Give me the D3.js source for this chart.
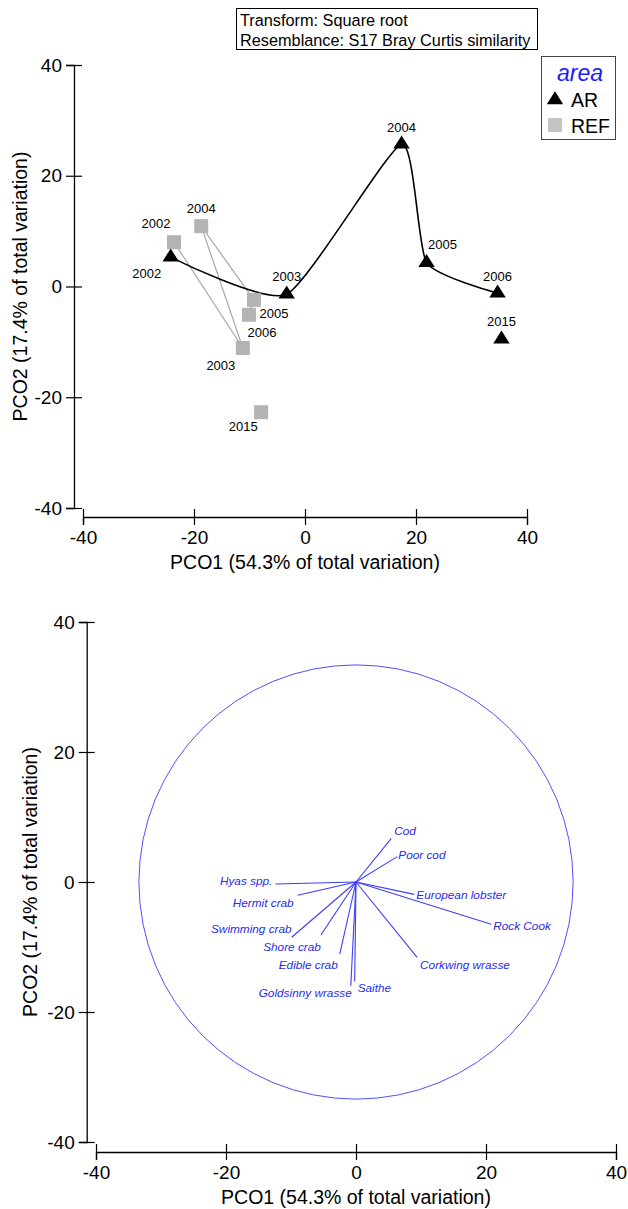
<!DOCTYPE html>
<html><head><meta charset="utf-8">
<script src="https://cdn.jsdelivr.net/npm/d3@7"></script>
<style>
html,body{margin:0;padding:0;background:#fff;}
svg{display:block;font-family:"Liberation Sans",Arial,sans-serif;}
</style></head>
<body>
<svg id="chart" width="628" height="1209"></svg>
<script>
// ---------- data ----------
const years = ["2002","2003","2004","2005","2006","2015"];
const arX  = [-24.2, -3.3, 17.4, 21.9, 34.7, 35.4];
const arY  = [  5.3, -1.4, 25.7,  4.3, -1.2, -9.5];
const refX = [-23.6, -11.2, -18.7, -9.2, -10.1, -7.9];
const refY = [  8.0, -11.1,  10.9, -2.4,  -5.1, -22.7];
const trajectoryYears = ["2002","2003","2004","2005","2006"];
const axisTicks = [-40, -20, 0, 20, 40];
const legendGroups = ["AR", "REF"];
const infoLines = ["Transform: Square root", "Resemblance: S17 Bray Curtis similarity"];
const xTitle = "PCO1 (54.3% of total variation)";
const yTitle = "PCO2 (17.4% of total variation)";

const species = ["Cod","Poor cod","Hyas spp.","Hermit crab","Swimming crab","Shore crab",
  "Edible crab","Goldsinny wrasse","Saithe","European lobster","Rock Cook","Corkwing wrasse"];
const vecX = [5.43, 6.35, -12.4, -8.97, -9.9, -5.4, -2.5, -0.8, -0.2, 8.97, 20.8, 9.4];
const vecY = [6.72, 3.9, -0.3, -2.05, -8.5, -8.15, -11.1, -15.95, -15.3, -1.9, -6.5, -11.6];
const circleRadius = 33.4;

// ---------- layout (label placement, px) ----------
const arLabelOff  = [[-24,21],[0,-13],[0,-12],[16,-14],[0,-12],[0,-13]];
const refLabelOff = [[-18,-14],[-22,22],[0,-13],[20,18],[13,22],[-18,19]];
const vecLabel = [["start",3,-3],["start",1,2],["end",-3,1],["end",-4,12],["end",0,-4],["end",0,16],
  ["end",-2,15],["end",1,11],["start",3,11],["start",2,5],["start",2,6],["start",3,12]];

const svg = d3.select("#chart");
const BLUE_LINE = "#3d3dff", BLUE_TEXT = "#2a2ae8", GREY = "#b3b3b3";

function drawAxes(g, x, y, yAxisX, xAxisY, tickFont, titleFont, yTitleX) {
  const fmt = d => String(d);
  const ya = g.append("g").attr("transform", `translate(${yAxisX},0)`)
    .call(d3.axisLeft(y).tickValues(axisTicks).tickFormat(fmt).tickSizeOuter(0).tickSize(8).tickPadding(4));
  ya.select(".domain").attr("stroke","#000").attr("stroke-width",1.3);
  ya.selectAll(".tick line").attr("x1",8).attr("stroke","#000").attr("stroke-width",1.2);
  ya.selectAll(".tick text").attr("font-size",tickFont).attr("fill","#000")
    .attr("font-family","Liberation Sans, Arial, sans-serif");
  const xa = g.append("g").attr("transform", `translate(0,${xAxisY})`)
    .call(d3.axisBottom(x).tickValues(axisTicks).tickFormat(fmt).tickSizeOuter(0).tickSize(8).tickPadding(6));
  xa.select(".domain").attr("stroke","#000").attr("stroke-width",1.3);
  xa.selectAll(".tick line").attr("y1",-8).attr("stroke","#000").attr("stroke-width",1.2);
  xa.selectAll(".tick text").attr("font-size",tickFont).attr("fill","#000")
    .attr("font-family","Liberation Sans, Arial, sans-serif");
  g.append("text").attr("x", x(0)).attr("y", xAxisY + 52).attr("text-anchor","middle")
    .attr("font-size", titleFont).text(xTitle);
  g.append("text").attr("transform", `translate(${yTitleX},${y(0)}) rotate(-90)`)
    .attr("text-anchor","middle").attr("font-size", titleFont).text(yTitle);
}

// ---------- top plot ----------
const x1 = d3.scaleLinear().domain([-40,40]).range([83,527]);
const y1 = d3.scaleLinear().domain([-40,40]).range([508,65]);
const topG = svg.append("g");
drawAxes(topG, x1, y1, 74, 517, 19, 19.5, 27);

// info box
const info = topG.append("g");
info.append("rect").attr("x",236.5).attr("y",8.5).attr("width",301).attr("height",41)
  .attr("fill","#fff").attr("stroke","#000").attr("stroke-width",1);
infoLines.forEach((t,i)=> info.append("text").attr("x",240).attr("y",26+i*19.5)
  .attr("font-size",16.3).text(t));

// trajectories
const refPts = trajectoryYears.map(yr => { const i = years.indexOf(yr); return [x1(refX[i]), y1(refY[i])]; });
topG.append("path").attr("d", d3.line().curve(d3.curveLinear)(refPts))
  .attr("fill","none").attr("stroke","#a8a8a8").attr("stroke-width",1.2);
const arPts = trajectoryYears.map(yr => { const i = years.indexOf(yr); return [x1(arX[i]), y1(arY[i])]; });
topG.append("path").attr("d", d3.line().curve(d3.curveCardinal.tension(0.45))(arPts))
  .attr("fill","none").attr("stroke","#000").attr("stroke-width",1.6);

// symbols
const tri = { draw(ctx, size) { const w = 8.2, h = 13; ctx.moveTo(0,-h*2/3); ctx.lineTo(w,h/3); ctx.lineTo(-w,h/3); ctx.closePath(); } };
const triPath = d3.symbol().type(tri).size(1)();
years.forEach((yr,i)=>{
  topG.append("rect").attr("x",x1(refX[i])-7).attr("y",y1(refY[i])-7).attr("width",14).attr("height",14)
    .attr("fill",GREY);
});
years.forEach((yr,i)=>{
  topG.append("path").attr("d",triPath).attr("transform",`translate(${x1(arX[i])},${y1(arY[i])})`).attr("fill","#000");
});
// labels
years.forEach((yr,i)=>{
  topG.append("text").attr("x",x1(refX[i])+refLabelOff[i][0]).attr("y",y1(refY[i])+refLabelOff[i][1])
    .attr("text-anchor","middle").attr("font-size",13).text(yr);
  topG.append("text").attr("x",x1(arX[i])+arLabelOff[i][0]).attr("y",y1(arY[i])+arLabelOff[i][1])
    .attr("text-anchor","middle").attr("font-size",13).text(yr);
});

// legend
const lg = topG.append("g");
lg.append("rect").attr("x",541.5).attr("y",56.5).attr("width",74).attr("height",83)
  .attr("fill","#fff").attr("stroke","#444").attr("stroke-width",1);
lg.append("text").attr("x",580).attr("y",81).attr("text-anchor","middle").attr("font-size",23)
  .attr("font-style","italic").attr("fill","#1a1aff").text("area");
legendGroups.forEach((g,i)=>{
  const cy = 99 + i*26;
  if (g === "AR") lg.append("path").attr("d",triPath).attr("transform",`translate(555,${cy+1})`).attr("fill","#000");
  else lg.append("rect").attr("x",548).attr("y",cy-7).attr("width",14).attr("height",14).attr("fill","#c4c4c4");
  lg.append("text").attr("x",571).attr("y",cy+7.5).attr("font-size",19.5).text(g);
});

// ---------- bottom plot ----------
const x2 = d3.scaleLinear().domain([-40,40]).range([96,616]);
const y2 = d3.scaleLinear().domain([-40,40]).range([1142,622]);
const botG = svg.append("g");
drawAxes(botG, x2, y2, 86.7, 1152, 19, 19.5, 37);

botG.append("circle").attr("cx",x2(0)).attr("cy",y2(0)).attr("r",x2(circleRadius)-x2(0))
  .attr("fill","none").attr("stroke","#5050ff").attr("stroke-width",1);
species.forEach((s,i)=>{
  botG.append("line").attr("x1",x2(0)).attr("y1",y2(0)).attr("x2",x2(vecX[i])).attr("y2",y2(vecY[i]))
    .attr("stroke",BLUE_LINE).attr("stroke-width",1.1);
});
species.forEach((s,i)=>{
  const [anc,dx,dy] = vecLabel[i];
  botG.append("text").attr("x",x2(vecX[i])+dx).attr("y",y2(vecY[i])+dy).attr("text-anchor",anc)
    .attr("font-size",11.8).attr("font-style","italic").attr("fill",BLUE_TEXT).text(s);
});
</script>
</body></html>
